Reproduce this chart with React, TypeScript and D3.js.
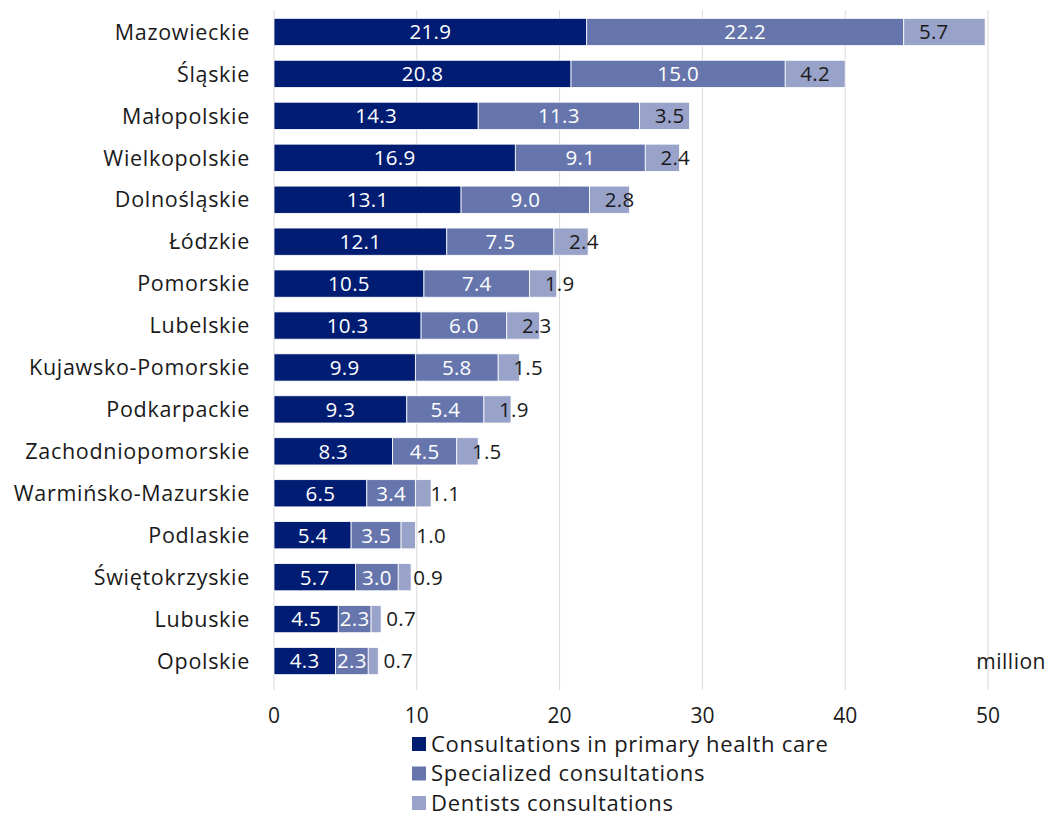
import React from 'react';
import * as d3 from 'd3';

const regions = [
  'Mazowieckie', 'Śląskie', 'Małopolskie', 'Wielkopolskie', 'Dolnośląskie', 'Łódzkie',
  'Pomorskie', 'Lubelskie', 'Kujawsko-Pomorskie', 'Podkarpackie', 'Zachodniopomorskie',
  'Warmińsko-Mazurskie', 'Podlaskie', 'Świętokrzyskie', 'Lubuskie', 'Opolskie',
];
const primary = [21.9, 20.8, 14.3, 16.9, 13.1, 12.1, 10.5, 10.3, 9.9, 9.3, 8.3, 6.5, 5.4, 5.7, 4.5, 4.3];
const specialized = [22.2, 15.0, 11.3, 9.1, 9.0, 7.5, 7.4, 6.0, 5.8, 5.4, 4.5, 3.4, 3.5, 3.0, 2.3, 2.3];
const dentists = [5.7, 4.2, 3.5, 2.4, 2.8, 2.4, 1.9, 2.3, 1.5, 1.9, 1.5, 1.1, 1.0, 0.9, 0.7, 0.7];
const seriesNames = ['Consultations in primary health care', 'Specialized consultations', 'Dentists consultations'];
const xTicks = [0, 10, 20, 30, 40, 50];

const colors = ['#001c73', '#6676ad', '#99a3c9'];
const font = '"Open Sans", sans-serif';

const App: React.FC = () => {
  const width = 1050;
  const height = 818;

  const x = d3.scaleLinear().domain([0, 50]).range([274, 988]);
  const y = d3.scaleBand<string>().domain(regions).range([11, 682]).paddingInner(0.35).paddingOuter(0.175);

  const rows = regions.map((r, i) => ({ region: r, primary: primary[i], specialized: specialized[i], dentists: dentists[i] }));
  const stack = d3.stack<any>().keys(['primary', 'specialized', 'dentists']);
  const layers = stack(rows);

  return (
    <svg width={width} height={height} style={{ position: 'absolute', left: 0, top: 0, background: '#fff' }}>
      {/* grid */}
      {xTicks.map(t => (
        <line key={t} x1={x(t)} x2={x(t)} y1={10} y2={690} stroke="#d9d9d9" strokeWidth={1} />
      ))}
      {/* bars */}
      {layers.map((layer, li) => (
        <g key={li}>
          {layer.map((d, i) => (
            <rect
              key={i}
              x={x(d[0])}
              y={y(regions[i])!}
              width={x(d[1]) - x(d[0])}
              height={y.bandwidth()}
              fill={colors[li]}
              stroke="#fff"
              strokeWidth={0.8}
            />
          ))}
        </g>
      ))}
      {/* value labels */}
      {layers.map((layer, li) => (
        <g key={'l' + li} fontFamily={font} fontSize={20.5} letterSpacing={0.3}>
          {layer.map((d, i) => {
            const v = d[1] - d[0];
            const cx = li < 2 ? (x(d[0]) + x(d[1])) / 2 : x(d[0]) + 30;
            return (
              <text
                key={i}
                x={cx}
                y={y(regions[i])! + y.bandwidth() / 2}
                dy="0.36em"
                textAnchor="middle"
                fill={li < 2 ? '#fff' : '#1a1a1a'}
              >
                {v.toFixed(1)}
              </text>
            );
          })}
        </g>
      ))}
      {/* category labels */}
      {regions.map(r => (
        <text key={r} x={250} y={y(r)! + y.bandwidth() / 2} dy="0.36em" textAnchor="end"
          fontFamily={font} fontSize={21.5} letterSpacing={0.7} fill="#1a1a1a">{r}</text>
      ))}
      {/* x tick labels */}
      {xTicks.map(t => (
        <text key={'t' + t} x={x(t)} y={715} dy="0.36em" textAnchor="middle"
          fontFamily={font} fontSize={21} fill="#1a1a1a">{t}</text>
      ))}
      <text x={1046} y={y('Opolskie')! + y.bandwidth() / 2} dy="0.36em" textAnchor="end"
        fontFamily={font} fontSize={21} letterSpacing={0.5} fill="#1a1a1a">million</text>
      {/* legend */}
      {seriesNames.map((s, i) => (
        <g key={s} transform={`translate(412, ${744 + i * 29.5})`}>
          <rect x={0} y={-7} width={14} height={14} fill={colors[i]} />
          <text x={19} y={0} dy="0.36em" fontFamily={font} fontSize={22} letterSpacing={0.7} fill="#1a1a1a">{s}</text>
        </g>
      ))}
    </svg>
  );
};

export default App;
